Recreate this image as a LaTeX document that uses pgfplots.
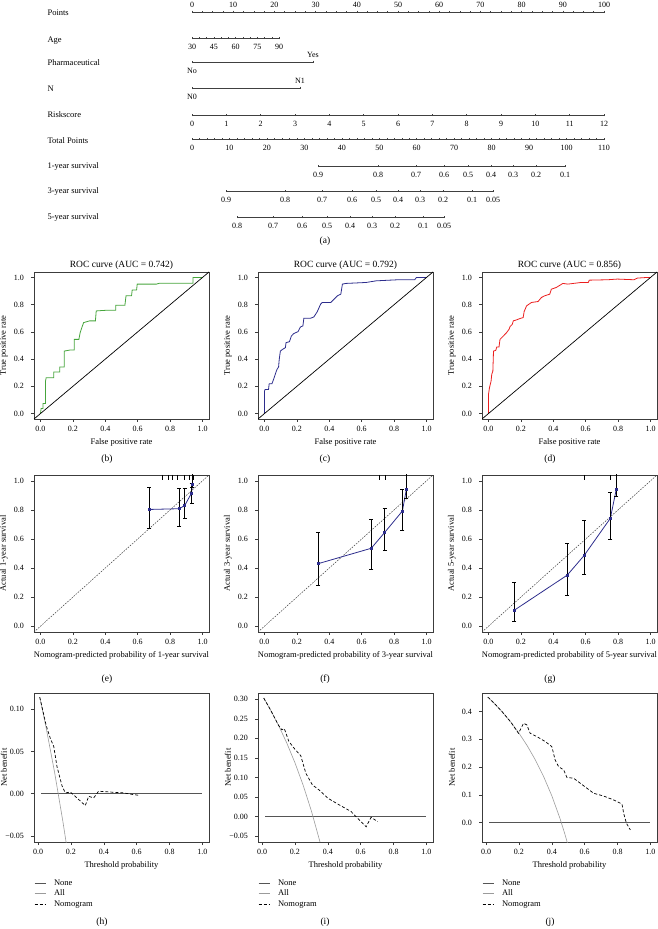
\documentclass[border=0pt]{standalone}
\usepackage{fontspec}
\setmainfont{Liberation Serif}
\usepackage{pgfplots}
\pgfplotsset{compat=1.18}
\newcommand{\fs}{\fontsize{8.5}{10}\selectfont}
\newcommand{\fsti}{\fontsize{9.5}{11}\selectfont}
\newcommand{\fst}{\fontsize{8}{9.6}\selectfont}
\newcommand{\fsn}{\fontsize{8}{9.6}\selectfont}
\newcommand{\fsl}{\fontsize{9.5}{11}\selectfont}
\definecolor{rocgreen}{RGB}{70,165,60}
\definecolor{rocblue}{RGB}{45,45,140}
\definecolor{rocred}{RGB}{235,30,30}
\definecolor{framec}{RGB}{60,60,60}
\definecolor{nonec}{RGB}{85,85,85}
\definecolor{allc}{RGB}{155,155,155}
\pgfplotsset{
 panel/.style={scale only axis, width=175pt, anchor=south west, clip=true,
  axis line style={line width=0.9pt, framec}, tick align=outside, tick pos=left,
  major tick length=3pt, tick style={line width=0.6pt, framec},
  tick label style={font=\fst}, label style={font=\fs},
  title style={font=\fsti, at={(axis description cs:0.5,1)}, anchor=center, yshift=1pt},
  xlabel style={at={(axis description cs:0.5,0)}, anchor=center, yshift=-23.5pt},
  ylabel style={at={(axis description cs:-0.172,0.5)}, anchor=center},
  xticklabel style={anchor=center, yshift=-6.5pt},
  yticklabel style={anchor=east, xshift=-3.5pt},
  xtick={0,0.2,0.4,0.6,0.8,1}, xticklabels={0.0,0.2,0.4,0.6,0.8,1.0},
  scaled ticks=false},
 roc/.style={panel, height=147pt, xmin=-0.04, xmax=1.04, ymin=-0.04, ymax=1.04,
  ytick={0,0.2,0.4,0.6,0.8,1}, yticklabels={0.0,0.2,0.4,0.6,0.8,1.0},
  xlabel={False positive rate}, ylabel={True positive rate}},
 cal/.style={panel, height=157pt, xmin=-0.04, xmax=1.04, ymin=-0.04, ymax=1.04,
  ytick={0,0.2,0.4,0.6,0.8,1}, yticklabels={0.0,0.2,0.4,0.6,0.8,1.0}},
 dca/.style={panel, height=149pt, xmin=-0.025, xmax=1.04, xlabel={Threshold probability}, ylabel={Net benefit},
  legend style={draw=none, fill=none, at={(axis description cs:0,-0.242)}, anchor=north west, font=\fs,
   inner sep=0pt, row sep=0.5pt, nodes={text height=6pt, text depth=2pt, inner sep=1pt},
   /tikz/every odd column/.append style={column sep=7pt}},
  legend cell align=left,
  legend image code/.code={\draw[##1] (0pt,0pt) -- (11pt,0pt);}},
 calline/.style={rocblue, line width=0.8pt, mark=square*, mark size=1pt, mark options={solid, rocblue},
  error bars/.cd, y dir=both, y explicit, error bar style={black, line width=0.6pt},
  error mark options={black, rotate=90, mark size=2pt, line width=0.6pt}},
 diag/.style={black!75, line width=0.5pt, dash pattern=on 1.6pt off 1.2pt},
 rug/.style={black, line width=0.6pt, unbounded coords=jump},
 nonel/.style={nonec, line width=0.9pt},
 alll/.style={allc, line width=0.6pt},
 noml/.style={black, line width=0.7pt, dash pattern=on 3pt off 2pt},
 nomobase/.style={scale only axis, height=10pt, ymin=0, ymax=1, hide y axis,
  tick align=outside, major tick length=2.5pt, minor tick length=1.5pt,
  tick style={line width=0.5pt, black!75}, tick label style={font=\fsn},
  scaled ticks=false, clip=false},
 nomo/.style={nomobase, axis x line=bottom, x axis line style={-, line width=0.7pt, black!75},
  anchor=south west, xticklabel style={anchor=center, yshift=-7.5pt}},
 nomotop/.style={nomobase, axis x line=top, x axis line style={-, line width=0.7pt, black!75},
  anchor=north west, xticklabel style={anchor=center, yshift=6pt}},
}
\begin{document}
\begin{tikzpicture}[x=1pt,y=1pt]
\useasboundingbox (0,0) rectangle (657,929);
% ---------------- nomogram ----------------
\begin{axis}[nomotop, at={(192pt,917pt)}, width=412pt, xmin=0, xmax=100,
  xtick={0,10,20,30,40,50,60,70,80,90,100}, xticklabels={0,10,20,30,40,50,60,70,80,90,100}, minor x tick num=3]
\end{axis}
\begin{axis}[nomo, at={(192pt,891pt)}, width=87pt, xmin=30, xmax=90,
  xtick={30,45,60,75,90}, xticklabels={30,45,60,75,90}, minor xtick={35,40,50,55,65,70,80,85}, minor tick length=2.5pt]
\end{axis}
\begin{axis}[nomo, at={(192pt,867pt)}, width=121pt, xmin=0, xmax=1, xtick={0}, xticklabels={No}]
\end{axis}
\begin{axis}[nomotop, at={(192pt,867pt)}, width=121pt, xmin=0, xmax=1, xtick={1}, xticklabels={Yes}]
\end{axis}
\begin{axis}[nomo, at={(192pt,841pt)}, width=108pt, xmin=0, xmax=1, xtick={0}, xticklabels={N0}]
\end{axis}
\begin{axis}[nomotop, at={(192pt,841pt)}, width=108pt, xmin=0, xmax=1, xtick={1}, xticklabels={N1}]
\end{axis}
\begin{axis}[nomo, at={(192pt,814pt)}, width=412pt, xmin=0, xmax=12,
  xtick={0,1,2,3,4,5,6,7,8,9,10,11,12}, xticklabels={0,1,2,3,4,5,6,7,8,9,10,11,12}]
\end{axis}
\begin{axis}[nomo, at={(192pt,790pt)}, width=412pt, xmin=0, xmax=110,
  xtick={0,10,20,30,40,50,60,70,80,90,100,110}, xticklabels={0,10,20,30,40,50,60,70,80,90,100,110}, minor x tick num=4]
\end{axis}
\begin{axis}[nomo, at={(318pt,763pt)}, width=247pt, xmin=318, xmax=565,
  xtick={318,378,416,444,468,491,513,536,565}, xticklabels={0.9,0.8,0.7,0.6,0.5,0.4,0.3,0.2,0.1}]
\end{axis}
\begin{axis}[nomo, at={(226pt,738pt)}, width=267pt, xmin=226, xmax=493,
  xtick={226,285,322,352,376,398,420,443,472,493}, xticklabels={0.9,0.8,0.7,0.6,0.5,0.4,0.3,0.2,0.1,0.05}]
\end{axis}
\begin{axis}[nomo, at={(237pt,712pt)}, width=207pt, xmin=237, xmax=444,
  xtick={237,273,302,327,350,372,395,423,444}, xticklabels={0.8,0.7,0.6,0.5,0.4,0.3,0.2,0.1,0.05}]
\end{axis}
\begin{scope}[font=\fs]
\node[anchor=west] at (44,916) {Points};
\node[anchor=west] at (44,888) {Age};
\node[anchor=west] at (44,866) {Pharmaceutical};
\node[anchor=west] at (44,840) {N};
\node[anchor=west] at (44,814) {Riskscore};
\node[anchor=west] at (44,788) {Total Points};
\node[anchor=west] at (44,763) {1-year survival};
\node[anchor=west] at (44,738) {3-year survival};
\node[anchor=west] at (44,712) {5-year survival};
\end{scope}
% ---------------- ROC ----------------
\begin{axis}[roc, at={(34pt,510pt)}, title={ROC curve (AUC = 0.742)}]
\addplot[rocgreen, line width=0.8pt] coordinates {(0,0)(0.004,0.037)(0.016,0.037)(0.016,0.074)(0.031,0.074)(0.031,0.238)(0.035,0.263)(0.082,0.263)(0.082,0.305)(0.119,0.305)(0.119,0.342)(0.147,0.342)(0.147,0.459)(0.184,0.467)(0.209,0.467)(0.209,0.545)(0.237,0.545)(0.245,0.595)(0.254,0.627)(0.266,0.668)(0.303,0.681)(0.339,0.681)(0.344,0.754)(0.409,0.759)(0.464,0.759)(0.464,0.796)(0.521,0.796)(0.528,0.865)(0.562,0.865)(0.566,0.907)(0.593,0.907)(0.597,0.951)(0.716,0.951)(0.736,0.958)(0.941,0.958)(0.941,1.0)(1,1)};
\addplot[black, line width=0.7pt] coordinates {(-0.04,-0.04)(1.04,1.04)};
\end{axis}
\begin{axis}[roc, at={(258pt,510pt)}, title={ROC curve (AUC = 0.792)}]
\addplot[rocblue, line width=0.8pt] coordinates {(0,0)(0,0.165)(0.004,0.177)(0.025,0.177)(0.029,0.219)(0.046,0.219)(0.056,0.251)(0.066,0.287)(0.077,0.324)(0.087,0.342)(0.091,0.398)(0.098,0.459)(0.112,0.472)(0.129,0.484)(0.133,0.521)(0.154,0.528)(0.166,0.570)(0.180,0.587)(0.207,0.602)(0.222,0.636)(0.237,0.644)(0.243,0.700)(0.284,0.700)(0.305,0.710)(0.326,0.749)(0.346,0.803)(0.357,0.816)(0.409,0.816)(0.429,0.840)(0.450,0.865)(0.471,0.877)(0.481,0.951)(0.502,0.956)(0.627,0.963)(0.689,0.975)(0.824,0.983)(0.927,0.983)(0.938,1.0)(1,1)};
\addplot[black, line width=0.7pt] coordinates {(-0.04,-0.04)(1.04,1.04)};
\end{axis}
\begin{axis}[roc, at={(482pt,510pt)}, title={ROC curve (AUC = 0.856)}]
\addplot[rocred, line width=0.8pt] coordinates {(0,0)(0,0.140)(0.006,0.189)(0.016,0.238)(0.020,0.287)(0.027,0.312)(0.031,0.459)(0.045,0.464)(0.051,0.489)(0.065,0.489)(0.071,0.545)(0.092,0.570)(0.112,0.595)(0.127,0.619)(0.133,0.639)(0.147,0.656)(0.153,0.681)(0.173,0.688)(0.194,0.698)(0.214,0.705)(0.220,0.749)(0.235,0.791)(0.265,0.816)(0.306,0.823)(0.327,0.853)(0.347,0.865)(0.378,0.877)(0.388,0.914)(0.418,0.926)(0.459,0.956)(0.490,0.951)(0.571,0.963)(0.616,0.963)(0.622,0.980)(0.735,0.983)(0.796,0.988)(0.898,0.983)(0.918,0.995)(0.980,1.0)(1,1)};
\addplot[black, line width=0.7pt] coordinates {(-0.04,-0.04)(1.04,1.04)};
\end{axis}
% ---------------- calibration ----------------
\begin{axis}[cal, at={(34pt,297pt)}, xlabel={Nomogram-predicted probability of 1-year survival}, ylabel={Actual 1-year survival}]
\addplot[diag] coordinates {(-0.04,-0.04)(1.04,1.04)};
\addplot[rug] coordinates {(0.752,1.04)(0.752,1.005)(0.752,nan)(0.786,1.04)(0.786,1.005)(0.786,nan)(0.816,1.04)(0.816,1.005)(0.816,nan)(0.846,1.04)(0.846,1.005)(0.846,nan)(0.886,1.04)(0.886,1.005)(0.886,nan)(0.916,1.04)(0.916,1.005)(0.916,nan)(0.946,1.04)(0.946,1.005)};
\addplot[calline] coordinates {(0.672,0.803) += (0,0.154) -= (0,0.127) (0.856,0.808) += (0,0.142) -= (0,0.118) (0.890,0.830) += (0,0.12) -= (0,0.09) (0.932,0.915) += (0,0.07) -= (0,0.07) (0.937,0.973) += (0,0.09) -= (0,0.02)};
\end{axis}
\begin{axis}[cal, at={(258pt,297pt)}, xlabel={Nomogram-predicted probability of 3-year survival}, ylabel={Actual 3-year survival}]
\addplot[diag] coordinates {(-0.04,-0.04)(1.04,1.04)};
\addplot[rug] coordinates {(0.707,1.04)(0.707,1.005)(0.707,nan)(0.748,1.04)(0.748,1.005)(0.748,nan)(0.876,1.04)(0.876,1.005)};
\addplot[calline] coordinates {(0.331,0.430) += (0,0.215) -= (0,0.152) (0.659,0.536) += (0,0.199) -= (0,0.146) (0.742,0.645) += (0,0.163) -= (0,0.12) (0.851,0.792) += (0,0.151) -= (0,0.131) (0.876,0.943) += (0,0.12) -= (0,0.061)};
\end{axis}
\begin{axis}[cal, at={(482pt,297pt)}, xlabel={Nomogram-predicted probability of 5-year survival}, ylabel={Actual 5-year survival}]
\addplot[diag] coordinates {(-0.04,-0.04)(1.04,1.04)};
\addplot[rug] coordinates {(0.594,1.04)(0.594,1.005)(0.594,nan)(0.752,1.04)(0.752,1.005)(0.752,nan)(0.789,1.04)(0.789,1.005)};
\addplot[calline] coordinates {(0.158,0.109) += (0,0.196) -= (0,0.075) (0.486,0.351) += (0,0.219) -= (0,0.141) (0.590,0.486) += (0,0.243) -= (0,0.131) (0.752,0.742) += (0,0.179) -= (0,0.142) (0.789,0.943) += (0,0.12) -= (0,0.049)};
\end{axis}
% ---------------- DCA ----------------
\begin{axis}[dca, at={(34pt,87pt)}, ymin=-0.057, ymax=0.119, ytick={-0.05,0,0.05,0.1}, yticklabels={−0.05,0.00,0.05,0.10}]
\addplot[nonel] coordinates {(0.02,0)(1,0)}; \addlegendentry{None}
\addplot[alll] coordinates {(0.01,0.1141)(0.05,0.0768)(0.10,0.0256)(0.15,-0.0318)(0.175,-0.0630)}; \addlegendentry{All}
\addplot[noml] coordinates {(0.01,0.1141)(0.05,0.080)(0.075,0.065)(0.095,0.056)(0.115,0.032)(0.146,0.009)(0.166,0.001)(0.196,0.002)(0.237,-0.005)(0.287,-0.014)(0.308,-0.003)(0.338,-0.005)(0.368,0.003)(0.44,0.002)(0.52,0.001)(0.58,-0.001)(0.62,-0.002)}; \addlegendentry{Nomogram}
\end{axis}
\begin{axis}[dca, at={(258pt,87pt)}, ymin=-0.065, ymax=0.316, ytick={-0.05,0,0.05,0.1,0.15,0.2,0.25,0.3}, yticklabels={−0.05,0.00,0.05,0.10,0.15,0.20,0.25,0.30}]
\addplot[nonel] coordinates {(0.02,0)(1,0)}; \addlegendentry{None}
\addplot[alll] coordinates {(0.01,0.303)(0.05,0.2737)(0.10,0.2333)(0.15,0.1882)(0.20,0.1375)(0.25,0.08)(0.30,0.0143)(0.35,-0.0615)(0.36,-0.0781)}; \addlegendentry{All}
\addplot[noml] coordinates {(0.01,0.303)(0.05,0.2737)(0.10,0.2333)(0.12,0.222)(0.135,0.225)(0.163,0.192)(0.20,0.172)(0.235,0.156)(0.266,0.111)(0.306,0.081)(0.347,0.068)(0.40,0.047)(0.469,0.030)(0.541,0.013)(0.581,-0.004)(0.633,-0.026)(0.663,-0.002)(0.704,-0.013)}; \addlegendentry{Nomogram}
\end{axis}
\begin{axis}[dca, at={(482pt,87pt)}, ymin=-0.0695, ymax=0.467, ytick={0,0.1,0.2,0.3,0.4}, yticklabels={0.0,0.1,0.2,0.3,0.4}]
\addplot[nonel] coordinates {(0.02,0)(1,0)}; \addlegendentry{None}
\addplot[alll] coordinates {(0.01,0.4525)(0.05,0.4295)(0.10,0.3978)(0.15,0.3624)(0.20,0.3225)(0.25,0.2773)(0.30,0.2257)(0.35,0.1662)(0.40,0.0967)(0.45,0.0146)(0.48,-0.0423)(0.50,-0.084)}; \addlegendentry{All}
\addplot[noml] coordinates {(0.01,0.4525)(0.05,0.4295)(0.10,0.3978)(0.15,0.3624)(0.197,0.322)(0.228,0.358)(0.248,0.352)(0.268,0.322)(0.309,0.31)(0.36,0.292)(0.40,0.274)(0.42,0.226)(0.441,0.202)(0.472,0.19)(0.492,0.163)(0.533,0.16)(0.573,0.142)(0.614,0.124)(0.654,0.106)(0.715,0.096)(0.776,0.082)(0.827,0.067)(0.837,0.034)(0.854,-0.002)(0.878,-0.026)}; \addlegendentry{Nomogram}
\end{axis}
% ---------------- panel letters ----------------
\begin{scope}[font=\fsl]
\node at (325,688) {(a)};
\node at (107,470) {(b)};
\node at (325,470) {(c)};
\node at (550,470) {(d)};
\node at (107,250) {(e)};
\node at (325,250) {(f)};
\node at (550,250) {(g)};
\node at (102,7) {(h)};
\node at (325,7) {(i)};
\node at (550,7) {(j)};
\end{scope}
\end{tikzpicture}
\end{document}
